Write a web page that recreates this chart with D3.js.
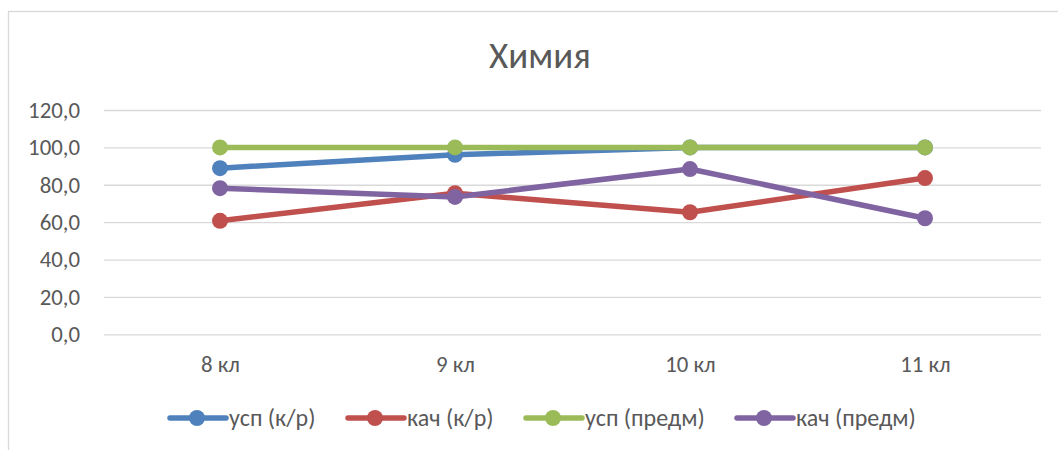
<!DOCTYPE html>
<html>
<head>
<meta charset="utf-8">
<script src="https://cdn.jsdelivr.net/npm/d3@7"></script>
<style>
  html, body { margin: 0; padding: 0; background: #fff; }
  svg { display: block; }
  text { font-family: Carlito, Calibri, Lato, "Noto Sans", sans-serif; fill: #595959; }
</style>
</head>
<body>
<svg id="chart" width="1058" height="450"></svg>
<script>
const title = "Химия";
const categories = ["8 кл", "9 кл", "10 кл", "11 кл"];
const seriesNames = ["усп (к/р)", "кач (к/р)", "усп (предм)", "кач (предм)"];
const uspKr = [88.9, 96.0, 100, 100];
const kachKr = [60.7, 75.5, 65.3, 83.6];
const uspPredm = [100, 100, 100, 100];
const kachPredm = [78.2, 73.5, 88.4, 62.1];
const yTicks = [0, 20, 40, 60, 80, 100, 120];
const colors = ["#4F81BD", "#C0504D", "#9BBB59", "#8064A2"];

const series = [uspKr, kachKr, uspPredm, kachPredm].map((v, i) => ({ name: seriesNames[i], values: v, color: colors[i] }));

const svg = d3.select("#chart");

// outer frame
svg.append("rect")
  .attr("x", 8.5).attr("y", 11.5)
  .attr("width", 1070).attr("height", 460)
  .attr("fill", "none").attr("stroke", "#d9d9d9").attr("stroke-width", 1.3);

const x = d3.scalePoint().domain(categories).range([102.5, 1042.5]).padding(0.5);
const y = d3.scaleLinear().domain([0, 120]).range([334.3, 110]);

svg.append("text")
  .attr("x", 540).attr("y", 68)
  .attr("text-anchor", "middle")
  .style("font-size", "37px")
  .text(title);

// gridlines
const yAxis = d3.axisLeft(y).tickValues(yTicks).tickSize(-(1041 - 104)).tickPadding(24)
  .tickFormat(d => d3.format(".1f")(d).replace(".", ","));
const gy = svg.append("g").attr("transform", "translate(104,0)").call(yAxis);
gy.select(".domain").remove();
gy.selectAll(".tick line").attr("stroke", "#d9d9d9").attr("stroke-width", 1.3);
gy.selectAll(".tick text").style("font-size", "22.8px").attr("fill", "#595959");

const xAxis = d3.axisBottom(x).tickSize(0).tickPadding(22);
const gx = svg.append("g").attr("transform", "translate(0,334.3)").call(xAxis);
gx.select(".domain").remove();
gx.selectAll(".tick text").style("font-size", "22.8px").attr("fill", "#595959");

const line = d3.line().x((d, i) => x(categories[i])).y(d => y(d));

series.forEach(s => {
  const g = svg.append("g");
  g.append("path").datum(s.values)
    .attr("d", line)
    .attr("fill", "none").attr("stroke", s.color)
    .attr("stroke-width", 5.5).attr("stroke-linejoin", "round").attr("stroke-linecap", "round");
  g.selectAll("circle").data(s.values).join("circle")
    .attr("cx", (d, i) => x(categories[i])).attr("cy", d => y(d))
    .attr("r", 8).attr("fill", s.color);
});

// legend
const legendX = [170, 348, 526, 737];
const legendY = 418;
series.forEach((s, i) => {
  const g = svg.append("g").attr("transform", `translate(${legendX[i]},${legendY})`);
  g.append("line").attr("x1", 0).attr("x2", 56).attr("y1", 0).attr("y2", 0)
    .attr("stroke", s.color).attr("stroke-width", 5.5).attr("stroke-linecap", "round");
  g.append("circle").attr("cx", 27).attr("cy", 0).attr("r", 8).attr("fill", s.color);
  g.append("text").attr("x", 59).attr("y", 0).attr("dy", "0.35em")
    .style("font-size", "24px").text(s.name);
});
</script>
</body>
</html>
